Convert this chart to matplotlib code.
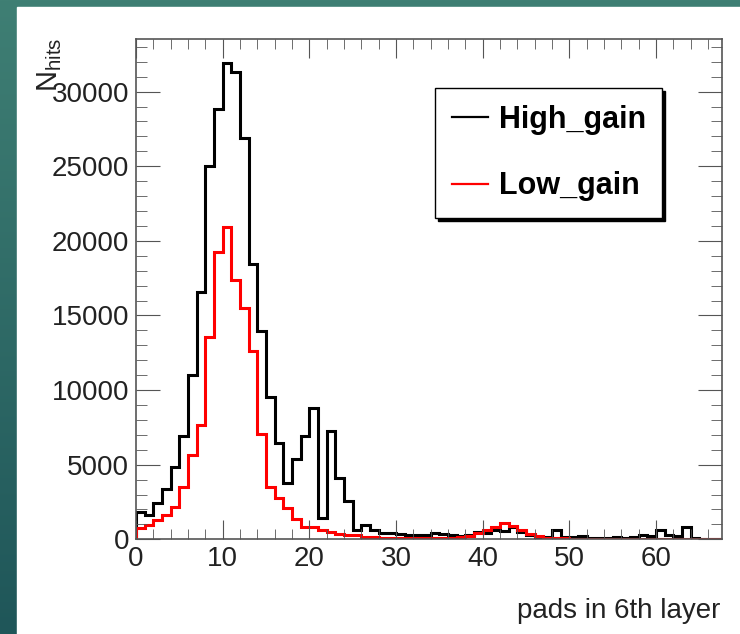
import matplotlib
matplotlib.use("Agg")
import matplotlib.pyplot as plt
import numpy as np
from matplotlib.patches import Rectangle
from matplotlib.colors import LinearSegmentedColormap
from matplotlib.ticker import MultipleLocator

plt.rcParams['font.family'] = ['Liberation Sans', 'DejaVu Sans']
plt.rcParams['mathtext.fontset'] = 'custom'
plt.rcParams['mathtext.rm'] = 'Liberation Sans'

# entries per bin (bin width 1, starting at 0)
high_gain = [1850, 1630, 2410, 3350, 4860, 6920, 11000, 16590, 25010, 28810,
             31930, 31330, 26870, 18450, 13980, 9510, 6470, 3790, 5360, 6920,
             8780, 1410, 7260, 4090, 2570, 650, 950, 600, 450, 400,
             330, 300, 300, 300, 450, 350, 300, 250, 300, 500,
             450, 600, 550, 800, 500, 300, 150, 150, 600, 150,
             150, 250, 100, 100, 100, 150, 100, 150, 300, 250,
             600, 300, 250, 800, 100, 50, 50, 50]
low_gain = [740, 960, 1290, 1630, 2180, 3480, 5650, 7660, 13570, 19270,
            20940, 17370, 15480, 12640, 7050, 3480, 2740, 2070, 1340, 840,
            800, 620, 470, 355, 290, 290, 170, 150, 120, 100,
            100, 100, 100, 100, 100, 100, 120, 150, 250, 400,
            600, 850, 1100, 900, 600, 350, 200, 100, 80, 60,
            50, 50, 40, 40, 40, 40, 40, 40, 40, 40,
            40, 40, 40, 40, 30, 30, 30, 30]
series_names = ['High_gain', 'Low_gain']
x_label = 'pads in 6th layer'
y_label = r'$\mathregular{N_{hits}}$'

edges = np.arange(len(high_gain) + 1)

fig = plt.figure(figsize=(7.4, 6.34), dpi=100)

# slide background: teal gradient with a white panel
bg = fig.add_axes([0, 0, 1, 1], zorder=-10)
grad = np.linspace(0, 1, 256).reshape(-1, 1)
teal = LinearSegmentedColormap.from_list('teal', ['#3f7f74', '#1f5659'])
bg.imshow(grad, aspect='auto', cmap=teal, extent=[0, 1, 0, 1])
bg.add_patch(Rectangle((17 / 740, 0), 1, 1 - 7 / 634, color='white'))
bg.set_xlim(0, 1)
bg.set_ylim(0, 1)
bg.axis('off')

ax = fig.add_axes([136 / 740, 94.7 / 634, 586 / 740, 500.3 / 634])
ax.stairs(high_gain, edges, color='black', linewidth=2.2, label=series_names[0])
ax.stairs(low_gain, edges, color='#ff0000', linewidth=2.2, label=series_names[1])

ax.set_xlim(0, 67.6)
ax.set_ylim(0, max(high_gain) * 1.05)

ax.xaxis.set_major_locator(MultipleLocator(10))
ax.xaxis.set_minor_locator(MultipleLocator(2))
ax.yaxis.set_major_locator(MultipleLocator(5000))
ax.yaxis.set_minor_locator(MultipleLocator(1000))
ax.tick_params(which='both', direction='in', top=True, right=True,
               color='#555555', labelsize=20, labelcolor='#222222')
ax.tick_params(axis='x', which='major', length=14, pad=5)
ax.tick_params(axis='x', which='minor', length=7)
ax.tick_params(axis='y', which='major', length=17, pad=5)
ax.tick_params(axis='y', which='minor', length=8)
for sp in ax.spines.values():
    sp.set_color('#555555')
    sp.set_linewidth(1.2)

fig.text(720 / 740, 1 - 611 / 634, x_label, ha='right', va='center',
         fontsize=20, color='#222222')
fig.text(50 / 740, 1 - 38 / 634, y_label, ha='center', va='top',
         rotation=90, fontsize=21, color='#222222')

leg = ax.legend(loc='upper left', bbox_to_anchor=(435 / 740, 1 - 88 / 634),
                bbox_transform=fig.transFigure, fancybox=False,
                shadow={'facecolor': 'black', 'edgecolor': 'black', 'alpha': 1},
                edgecolor='black', framealpha=1,
                prop={'size': 22, 'weight': 'bold'},
                handlelength=1.2, handletextpad=0.33, borderpad=0.55,
                labelspacing=1.2, borderaxespad=0)
leg.get_frame().set_linewidth(1.0)
for line in leg.get_lines():
    line.set_linewidth(1.6)

fig.savefig('out.png', dpi=100)
